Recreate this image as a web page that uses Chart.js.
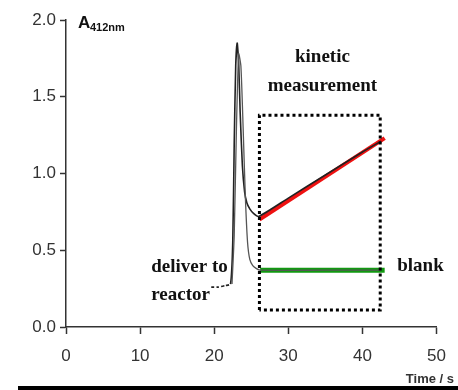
<!DOCTYPE html>
<html>
<head>
<meta charset="utf-8">
<script src="https://cdn.jsdelivr.net/npm/chart.js@4"></script>
<style>
  html, body { margin: 0; padding: 0; background: #fff; }
  #wrap { width: 458px; height: 390px; position: relative; }
</style>
</head>
<body>
<div id="wrap"><canvas id="kinChart"></canvas></div>
<script>
// sample trace (time in s, absorbance at 412 nm)
var sampleT = [19.6, 20.5, 21.5, 22.2, 22.5, 22.7, 22.9, 23.1, 23.3, 23.5, 23.8, 24.1, 24.4, 24.8, 25.3, 26.0, 30, 35, 40, 42.5];
var sampleA = [0.26, 0.26, 0.27, 0.28, 0.55, 1.20, 1.70, 1.85, 1.72, 1.40, 1.05, 0.88, 0.81, 0.77, 0.74, 0.72, 0.84, 0.99, 1.14, 1.21];
// blank trace
var blankT = [22.4, 22.7, 23.0, 23.3, 23.6, 23.9, 24.2, 24.5, 24.8, 25.2, 25.7, 26.2, 35, 42.5];
var blankA = [0.28, 0.60, 1.30, 1.78, 1.70, 1.30, 0.85, 0.55, 0.44, 0.40, 0.38, 0.37, 0.37, 0.37];
// fitted lines
var fitT = [26.1, 43.0];
var fitA = [0.70, 1.23];
var blankFitT = [26.2, 43.0];
var blankFitA = [0.37, 0.37];
// kinetic measurement window
var boxT = [26.1, 26.1, 42.4, 42.4, 26.1];
var boxA = [0.11, 1.38, 1.38, 0.11, 0.11];
var xTicks = [0, 10, 20, 30, 40, 50];
var yTicks = [0.0, 0.5, 1.0, 1.5, 2.0];

function pts(xs, ys) {
    return xs.map(function (x, i) { return {x: x, y: ys[i]}; });
}

var labels = [
    {text: 'kinetic', x: 34.6, y: 1.76, align: 'center'},
    {text: 'measurement', x: 34.6, y: 1.57, align: 'center'},
    {text: 'deliver to', x: 11.5, y: 0.39, align: 'left'},
    {text: 'reactor', x: 11.5, y: 0.21, align: 'left'},
    {text: 'blank', x: 44.7, y: 0.40, align: 'left'}
];

var textPlugin = {
    id: 'textPlugin',
    afterDraw: function (chart) {
        var ctx = chart.ctx;
        var xs = chart.scales.x, ys = chart.scales.y;
        ctx.save();
        ctx.fillStyle = '#111';
        ctx.font = 'bold 19px "Liberation Serif", "DejaVu Serif", serif';
        ctx.textBaseline = 'middle';
        labels.forEach(function (l) {
            ctx.textAlign = l.align;
            ctx.fillText(l.text, xs.getPixelForValue(l.x), ys.getPixelForValue(l.y));
        });
        // axis name
        var left = chart.chartArea.left;
        var top = chart.chartArea.top;
        ctx.textAlign = 'left';
        ctx.font = 'bold 17px "Liberation Sans", Arial, sans-serif';
        ctx.fillText('A', left + 12, top + 3);
        ctx.font = 'bold 11px "Liberation Sans", Arial, sans-serif';
        ctx.fillText('412nm', left + 24, top + 8);
        // x axis name
        ctx.font = 'bold 13px "Liberation Sans", Arial, sans-serif';
        ctx.textAlign = 'right';
        ctx.fillStyle = '#333';
        ctx.fillText('Time / s', 454, 379);
        // black strip at the bottom
        ctx.fillStyle = '#000';
        ctx.fillRect(18, 386, 440, 4);
        ctx.restore();
    }
};

var ctx = document.getElementById('kinChart');
new Chart(ctx, {
    type: 'scatter',
    data: {
        datasets: [
            {
                label: 'window',
                data: pts(boxT, boxA),
                showLine: true,
                borderColor: '#000',
                borderWidth: 3,
                borderDash: [3, 3],
                pointRadius: 0,
                tension: 0
            },
            {
                label: 'blank',
                data: pts(blankT, blankA),
                showLine: true,
                borderColor: '#555',
                borderWidth: 1.3,
                pointRadius: 0,
                tension: 0.2
            },
            {
                label: 'sample',
                data: pts(sampleT, sampleA),
                showLine: true,
                borderColor: '#222',
                borderWidth: 1.6,
                pointRadius: 0,
                tension: 0.2,
                segment: {
                    borderDash: function (c) { return c.p0.parsed.x < 22 ? [3, 2] : undefined; }
                }
            },
            {
                label: 'blank fit',
                data: pts(blankFitT, blankFitA),
                showLine: true,
                borderColor: '#119911',
                borderWidth: 5,
                pointRadius: 0
            },
            {
                label: 'fit',
                data: pts(fitT, fitA),
                showLine: true,
                borderColor: '#ee1111',
                borderWidth: 4,
                pointRadius: 0
            }
        ]
    },
    options: {
        responsive: true,
        maintainAspectRatio: false,
        animation: false,
        layout: { padding: { top: 20, right: 21, bottom: 0, left: 0 } },
        plugins: {
            legend: { display: false },
            tooltip: { enabled: false }
        },
        scales: {
            x: {
                type: 'linear',
                min: 0,
                max: 50,
                afterFit: function (s) { s.height = 63; },
                afterBuildTicks: function (s) { s.ticks = xTicks.map(function (v) { return {value: v}; }); },
                border: { display: true, color: '#333', width: 1.5 },
                grid: { drawOnChartArea: false, drawTicks: true, tickLength: 7, color: '#333', tickWidth: 1.5 },
                ticks: {
                    color: '#333',
                    padding: 12,
                    maxRotation: 0,
                    font: { family: '"Liberation Sans", Arial, sans-serif', size: 17 }
                }
            },
            y: {
                min: 0,
                max: 2,
                afterFit: function (s) { s.width = 66; },
                afterBuildTicks: function (s) { s.ticks = yTicks.map(function (v) { return {value: v}; }); },
                border: { display: true, color: '#333', width: 1.5 },
                grid: { drawOnChartArea: false, drawTicks: true, tickLength: 6, color: '#333', tickWidth: 1.5 },
                ticks: {
                    color: '#333',
                    padding: 4,
                    font: { family: '"Liberation Sans", Arial, sans-serif', size: 17 },
                    callback: function (v) { return v.toFixed(1); }
                }
            }
        }
    },
    plugins: [textPlugin]
});
</script>
</body>
</html>
